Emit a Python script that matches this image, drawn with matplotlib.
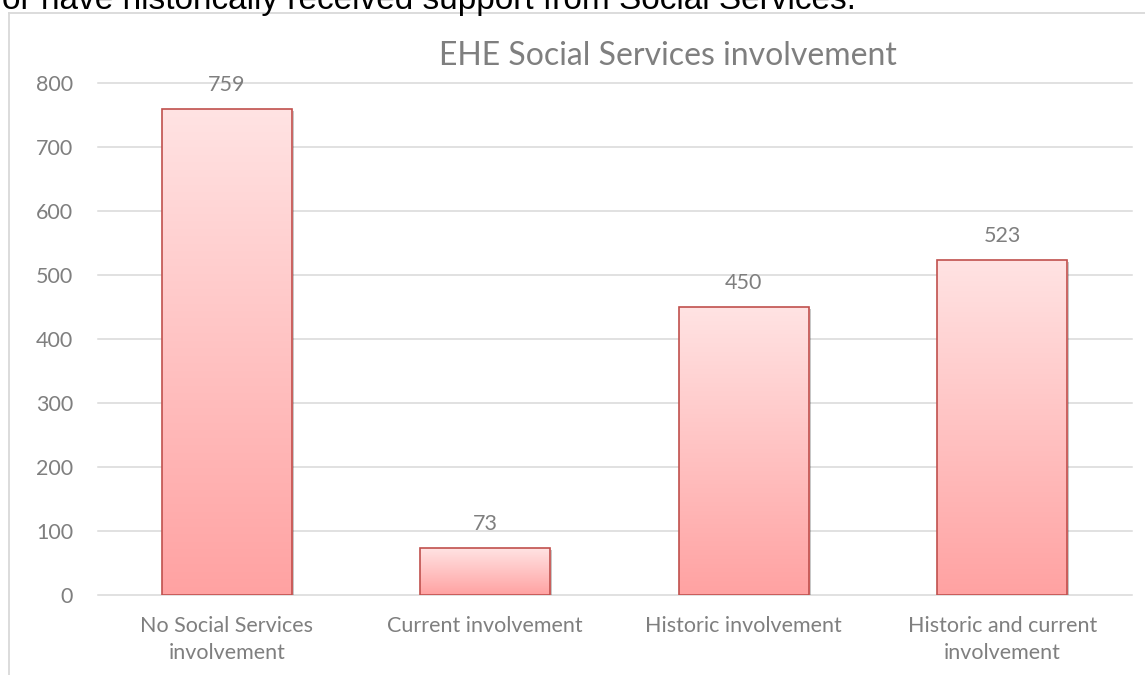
import numpy as np
import matplotlib
matplotlib.use("Agg")
import matplotlib.pyplot as plt
from matplotlib.colors import LinearSegmentedColormap
from matplotlib.lines import Line2D
import matplotlib.patheffects as pe

# ---- data ----
categories = ["No Social Services\ninvolvement", "Current involvement",
              "Historic involvement", "Historic and current\ninvolvement"]
values = [759, 73, 450, 523]
y_ticks = [0, 100, 200, 300, 400, 500, 600, 700, 800]
title = "EHE Social Services involvement"
doc_line = "or have historically received support from Social Services."

W, H = 1145, 675
GREY = "#7f7f7f"
GRID = "#d9d9d9"
EDGE = "#c0504d"
FONT = ["Lato", "DejaVu Sans"]

plt.rcParams["font.family"] = FONT

fig = plt.figure(figsize=(W / 100, H / 100), dpi=100)
fig.patch.set_facecolor("white")

# plot area in pixel terms: x 97.5..1131.6, 800-line at y=82.7, 0-line at y=594.7
ax = fig.add_axes([97.5 / W, 1 - 594.7 / H, (1131.6 - 97.5) / W, (594.7 - 82.7) / H])

x = np.arange(len(categories))
bw = 0.503

# soft shadow underneath
ax.bar(x, values, bw, color="white", zorder=1.9,
       path_effects=[pe.SimplePatchShadow(offset=(1.5, -1.5), shadow_rgbFace="k", alpha=0.22)])

bars = ax.bar(x, values, bw, facecolor="none", edgecolor=EDGE, linewidth=1.2, zorder=3)

# per-bar vertical gradient fill (light top -> deeper pink bottom)
cmap = LinearSegmentedColormap.from_list("pinkgrad", ["#ffe3e3", "#ffa2a2"])
grad = np.linspace(0, 1, 256).reshape(-1, 1)
for b in bars:
    x0, y0, bwid, bh = b.get_x(), b.get_y(), b.get_width(), b.get_height()
    im = ax.imshow(grad, cmap=cmap, aspect="auto", origin="upper",
                   extent=(x0, x0 + bwid, y0, y0 + bh), zorder=2.5)
    im.set_clip_path(b)

for b, v in zip(bars, values):
    ax.annotate(f"{v}", (b.get_x() + b.get_width() / 2, b.get_height()),
                xytext=(0, 13), textcoords="offset points", ha="center", va="baseline",
                fontsize=15.5, color=GREY)

ax.set_xlim(-0.5, len(categories) - 0.5)
ax.set_ylim(0, 800)
ax.set_yticks(y_ticks)
ax.set_xticks(x)
ax.set_xticklabels(categories, linespacing=1.45)
ax.tick_params(axis="both", length=0, labelsize=15.5, labelcolor=GREY)
ax.tick_params(axis="y", pad=17.5)
ax.tick_params(axis="x", pad=15.5)

for s in ax.spines.values():
    s.set_visible(False)
ax.set_axisbelow(True)
ax.yaxis.grid(True, color=GRID, linewidth=1.1)
for gl in ax.get_ygridlines():
    gl.set_clip_on(False)

# chart title (centred on the full chart area, which runs past the image edge)
fig.text(668 / W, 1 - 65 / H, title, ha="center", va="baseline",
         fontsize=23, color=GREY)

# chart area frame (left + top edges visible)
fig.add_artist(Line2D([8.5 / W, 8.5 / W], [0, 1 - 13 / H], color=GRID, linewidth=1.3))
fig.add_artist(Line2D([8.5 / W, 1], [1 - 13 / H, 1 - 13 / H], color=GRID, linewidth=1.3))

# surrounding document text, cut off at the top
fig.text(2 / W, 1 - 9 / H, doc_line, ha="left", va="baseline",
         fontsize=24, color="black", family=["Liberation Sans", "DejaVu Sans"])

fig.savefig("out.png", dpi=100, facecolor="white")
